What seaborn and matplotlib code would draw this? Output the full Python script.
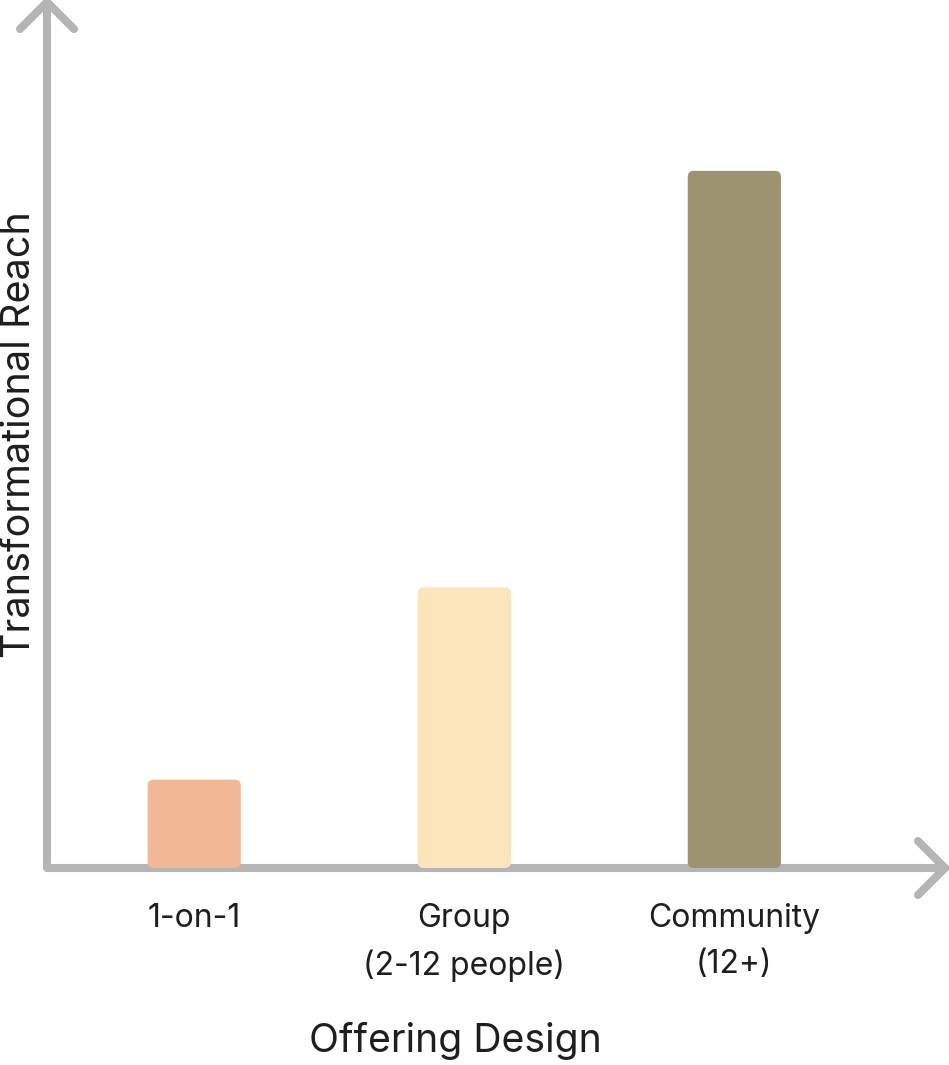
import matplotlib
matplotlib.use("Agg")
import matplotlib.pyplot as plt
from matplotlib.patches import FancyBboxPatch
import seaborn as sns

# chart data
offerings = ["1-on-1", "Group\n(2-12 people)", "Community\n(12+)"]
reach = [1.02, 3.24, 8.05]
bar_colors = ["#F0B895", "#FCE5BA", "#9D9371"]

AXIS_COLOR = "#B5B5B5"
TEXT_COLOR = "#1E1E1E"


def set_plot_style():
    sns.set_theme(style="white")
    plt.rcParams["font.family"] = ["Inter", "DejaVu Sans"]


def round_bars(ax, radius_px=6):
    """Swap the seaborn rectangles for rounded boxes."""
    fig = ax.figure
    fig.canvas.draw()
    x0, x1 = ax.get_xlim()
    y0, y1 = ax.get_ylim()
    bbox = ax.get_window_extent()
    px_x = bbox.width / (x1 - x0)
    px_y = bbox.height / (y1 - y0)
    for rect in list(ax.patches):
        x, y = rect.get_x(), rect.get_y()
        w, h = rect.get_width(), rect.get_height()
        box = FancyBboxPatch(
            (x, y), w, h,
            boxstyle=f"round,pad=0,rounding_size={radius_px / px_x}",
            mutation_aspect=px_x / px_y,
            facecolor=rect.get_facecolor(), edgecolor="none", zorder=3,
        )
        rect.remove()
        ax.add_patch(box)


def draw_axes_arrows(ax, width_px, height_px):
    kw = dict(color=AXIS_COLOR, lw=5.8, transform=ax.transAxes, clip_on=False,
              solid_capstyle="round", solid_joinstyle="round", zorder=2)
    arm = 27
    dx, dy = arm / width_px, arm / height_px
    # y axis + x axis
    ax.plot([0, 0, 1], [1, 0, 0], **kw)
    # arrow heads
    ax.plot([-dx, 0, dx], [1 - dy, 1, 1 - dy], **kw)
    ax.plot([1 - dx, 1, 1 - dx], [dy, 0, -dy], **kw)


def plot_offering_reach():
    W, H = 949, 1065
    fig = plt.figure(figsize=(W / 100, H / 100), dpi=100)
    left, right, top, bottom = 47, 945, 2, 868
    ax = fig.add_axes([left / W, 1 - bottom / H, (right - left) / W, (bottom - top) / H])

    sns.barplot(x=offerings, y=reach, hue=offerings, palette=bar_colors,
                legend=False, width=0.345, saturation=1, ax=ax)

    ax.set_xlim(-0.545, 2.78)
    ax.set_ylim(0, 10)
    for s in ax.spines.values():
        s.set_visible(False)
    ax.set_yticks([])
    ax.set_xticks(range(len(offerings)))
    ax.set_xticklabels(offerings, fontsize=23, color=TEXT_COLOR, linespacing=1.62)
    ax.tick_params(axis="x", length=0, pad=25)
    ax.set_xlabel("")
    ax.set_ylabel("")

    round_bars(ax)
    draw_axes_arrows(ax, right - left, bottom - top)

    fig.text(455 / W, 1 - 1041 / H, "Offering Design", fontsize=28.2,
             color=TEXT_COLOR, ha="center", va="center")
    fig.text(20 / W, 1 - 435 / H, "Transformational Reach", fontsize=28.5,
             color=TEXT_COLOR, ha="center", va="center", rotation=90)

    fig.savefig("out.png", dpi=100, facecolor="white")


if __name__ == "__main__":
    set_plot_style()
    plot_offering_reach()
